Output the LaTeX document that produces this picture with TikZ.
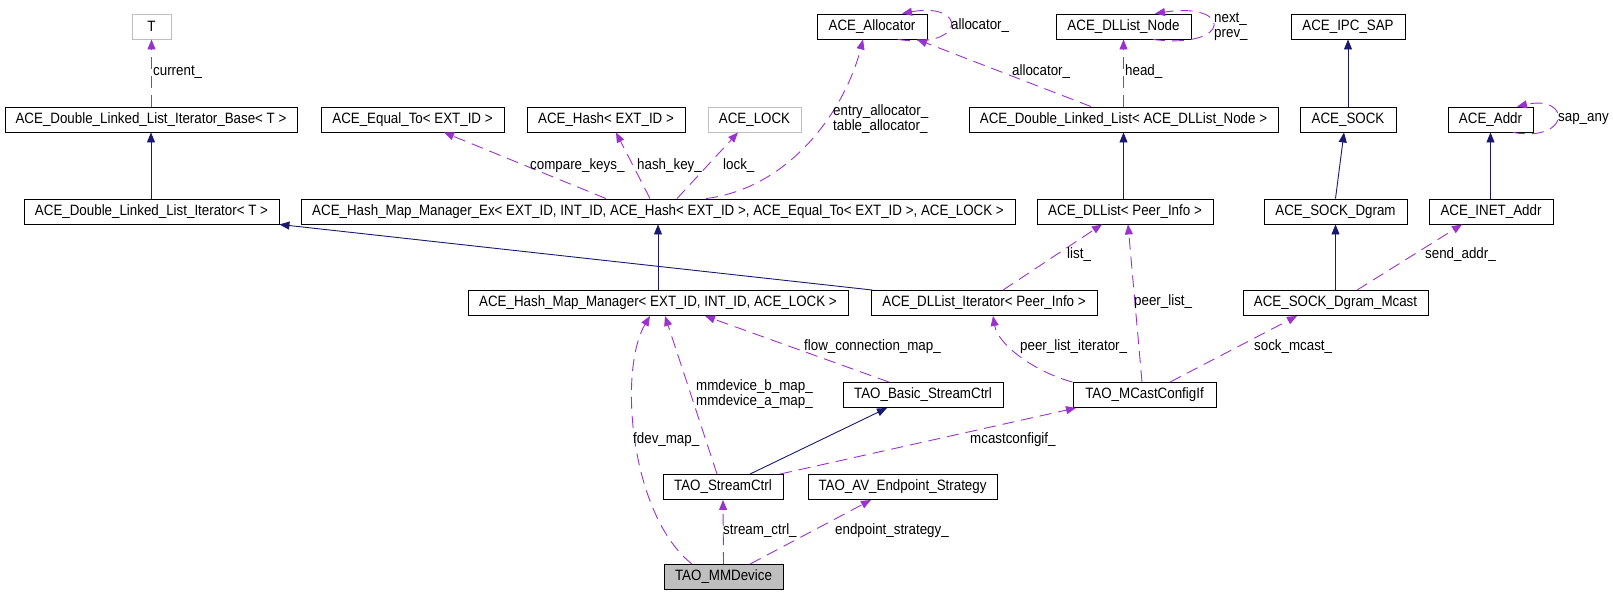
\documentclass[tikz,border=0pt]{standalone}
\usepackage{fontspec}
\newfontfamily\doxyfont{Liberation Sans}[FakeStretch=0.89]
\usetikzlibrary{arrows.meta}
\definecolor{inhblue}{HTML}{191970}
\definecolor{usepurple}{HTML}{9A32CD}
\definecolor{boxgray}{HTML}{BFBFBF}

\begin{document}
\begin{tikzpicture}[
        x=1pt, y=-1pt,
        cls/.style={rectangle, draw=black, line width=0.9pt, minimum height=25pt, inner sep=0pt, font=\doxyfont\fontsize{15}{16}\selectfont},
        tmpl/.style={cls, draw=boxgray},
        focus/.style={cls, fill=boxgray},
        inherit/.style={draw=inhblue, line width=0.9pt, -{Triangle[length=10pt,width=8pt]}},
        member/.style={draw=usepurple, line width=0.9pt, dash pattern=on 12pt off 7pt, -{Triangle[length=10pt,width=8pt]}},
        lbl/.style={anchor=west, inner sep=0pt, align=left, font=\doxyfont\fontsize{15}{15}\selectfont}
    ]

        \useasboundingbox (0,0) rectangle (1613,595);

        % Row 1
        \node[tmpl, minimum width=39pt] (tparam) at (151.5,26.5) {T};
        \node[cls, minimum width=110pt] (allocator) at (872,26.5) {ACE\_Allocator};
        \node[cls, minimum width=135pt] (dllnode) at (1123.5,26.5) {ACE\_DLList\_Node};
        \node[cls, minimum width=114pt] (ipcsap) at (1348,26.5) {ACE\_IPC\_SAP};

        % Row 2
        \node[cls, minimum width=292pt] (iterbase) at (151,119.5) {ACE\_Double\_Linked\_List\_Iterator\_Base< T >};
        \node[cls, minimum width=183pt] (equalto) at (412.5,119.5) {ACE\_Equal\_To< EXT\_ID >};
        \node[cls, minimum width=158pt] (hash) at (606,119.5) {ACE\_Hash< EXT\_ID >};
        \node[tmpl, minimum width=93pt] (lock) at (754.5,119.5) {ACE\_LOCK};
        \node[cls, minimum width=309pt] (dll) at (1123.5,119.5) {ACE\_Double\_Linked\_List< ACE\_DLList\_Node >};
        \node[cls, minimum width=96pt] (sock) at (1348,119.5) {ACE\_SOCK};
        \node[cls, minimum width=85pt] (addr) at (1490.5,119.5) {ACE\_Addr};

        % Row 3
        \node[cls, minimum width=255pt] (iter) at (151.5,211.5) {ACE\_Double\_Linked\_List\_Iterator< T >};
        \node[cls, minimum width=714pt] (hmmex) at (658,211.5) {ACE\_Hash\_Map\_Manager\_Ex< EXT\_ID, INT\_ID, ACE\_Hash< EXT\_ID >, ACE\_Equal\_To< EXT\_ID >, ACE\_LOCK >};
        \node[cls, minimum width=176pt] (dllist) at (1125,211.5) {ACE\_DLList< Peer\_Info >};
        \node[cls, minimum width=143pt] (dgram) at (1335.5,211.5) {ACE\_SOCK\_Dgram};
        \node[cls, minimum width=124pt] (inet) at (1491,211.5) {ACE\_INET\_Addr};

        % Row 4
        \node[cls, minimum width=380pt] (hmm) at (658,303) {ACE\_Hash\_Map\_Manager< EXT\_ID, INT\_ID, ACE\_LOCK >};
        \node[cls, minimum width=226pt] (dlliter) at (984,303) {ACE\_DLList\_Iterator< Peer\_Info >};
        \node[cls, minimum width=185pt] (mcast) at (1335.5,303) {ACE\_SOCK\_Dgram\_Mcast};

        % Row 5
        \node[cls, minimum width=160pt] (basic) at (923,395) {TAO\_Basic\_StreamCtrl};
        \node[cls, minimum width=143pt] (mcif) at (1144.5,395) {TAO\_MCastConfigIf};

        % Row 6
        \node[cls, minimum width=120pt] (streamctrl) at (723,487) {TAO\_StreamCtrl};
        \node[cls, minimum width=189pt] (endpoint) at (902.5,487) {TAO\_AV\_Endpoint\_Strategy};

        % Row 7
        \node[focus, minimum width=119pt] (mmdev) at (723.5,577) {TAO\_MMDevice};

        % Inheritance
        \foreach \src/\dst in {iter/iterbase, hmm/hmmex, dllist/dll, sock/ipcsap, mcast/dgram, inet/addr}{
            \draw[inherit] (\src.north -| \dst.south) -- (\dst.south);
        }
        \draw[inherit] (dgram.north) -- ([xshift=-4pt]sock.south);
        \draw[inherit] ([xshift=2pt]dlliter.north west) -- (iter.south east);
        \draw[inherit] ([xshift=27pt]streamctrl.north) -- ([xshift=-36pt]basic.south);

        % Members
        \draw[member] (iterbase.north -| tparam.south) -- (tparam.south);
        \draw[member] ([xshift=-52pt]hmmex.north) -- ([xshift=31.5pt]equalto.south);
        \draw[member] ([xshift=-8pt]hmmex.north) -- ([xshift=10pt]hash.south);
        \draw[member] ([xshift=19pt]hmmex.north) -- ([xshift=-16.5pt]lock.south);
        \draw[member] ([xshift=48pt]hmmex.north) .. controls (790,188) and (845,110) .. ([xshift=-9pt]allocator.south);
        \draw[member] ([xshift=-32.5pt]dll.north) -- ([xshift=45pt]allocator.south);
        \draw[member] ([xshift=26pt]allocator.south) .. controls ([shift={(95,10)}]allocator.south) and ([shift={(95,-12)}]allocator.north) .. ([xshift=30pt]allocator.north);
        \draw[member] ([xshift=29.5pt]dllnode.south) .. controls ([shift={(109,10)}]dllnode.south) and ([shift={(109,-12)}]dllnode.north) .. ([xshift=31.5pt]dllnode.north);
        \draw[member] (dll.north) -- (dllnode.south);
        \draw[member] ([xshift=22.5pt]addr.south) .. controls ([shift={(80.5,10)}]addr.south) and ([shift={(80.5,-12)}]addr.north) .. ([xshift=26.5pt]addr.north);
        \draw[member] ([xshift=19pt]dlliter.north) -- ([xshift=-23pt]dllist.south);
        \draw[member] ([xshift=-2.5pt]mcif.north) -- ([xshift=3pt]dllist.south);
        \draw[member] ([xshift=21.5pt]mcast.north) -- ([xshift=-29pt]inet.south);
        \draw[member] ([xshift=25.5pt]mcif.north) -- ([xshift=-38.5pt]mcast.south);
        \draw[member] ([xshift=-34pt]basic.north) -- ([xshift=47pt]hmm.south);
        \draw[member] (mcif.north west) .. controls (1035,372) and (998,345) .. ([xshift=9pt]dlliter.south);
        \draw[member] ([xshift=57pt]streamctrl.north) -- ([xshift=-68.5pt]mcif.south);
        \draw[member] ([xshift=-6pt]streamctrl.north) -- ([xshift=7pt]hmm.south);
        \draw[member] ([xshift=-31.5pt]mmdev.north) .. controls (630,515) and (618,370) .. ([xshift=-8pt]hmm.south);
        \draw[member] (mmdev.north) -- (streamctrl.south);
        \draw[member] ([xshift=26.5pt]mmdev.north) -- ([xshift=-31.5pt]endpoint.south);

        % Member labels
        \node[lbl] (l-current) at (153,72) {current\_};
        \node[lbl] (l-compare) at (530,166) {compare\_keys\_};
        \node[lbl] (l-hashkey) at (637,166) {hash\_key\_};
        \node[lbl] (l-lock) at (723,166) {lock\_};
        \node[lbl] (l-alloc) at (833,119.5) {entry\_allocator\_\\table\_allocator\_};
        \node[lbl] (l-selfalloc) at (951,26) {allocator\_};
        \node[lbl] (l-dllalloc) at (1012,72) {allocator\_};
        \node[lbl] (l-nextprev) at (1214,26.5) {next\_\\prev\_};
        \node[lbl] (l-head) at (1125,72) {head\_};
        \node[lbl] (l-sapany) at (1558,119) {sap\_any};
        \node[lbl] (l-list) at (1067,255) {list\_};
        \node[lbl] (l-peerlist) at (1134,302) {peer\_list\_};
        \node[lbl] (l-sendaddr) at (1425,255) {send\_addr\_};
        \node[lbl] (l-sockmcast) at (1254,347) {sock\_mcast\_};
        \node[lbl] (l-flow) at (804,347) {flow\_connection\_map\_};
        \node[lbl] (l-peeriter) at (1020,347) {peer\_list\_iterator\_};
        \node[lbl] (l-mcif) at (970,440) {mcastconfigif\_};
        \node[lbl] (l-mmdevmaps) at (696,394.5) {mmdevice\_b\_map\_\\mmdevice\_a\_map\_};
        \node[lbl] (l-fdev) at (633,440) {fdev\_map\_};
        \node[lbl] (l-streamctrl) at (723,531) {stream\_ctrl\_};
        \node[lbl] (l-endpoint) at (835,531) {endpoint\_strategy\_};

    \end{tikzpicture}
\end{document}
